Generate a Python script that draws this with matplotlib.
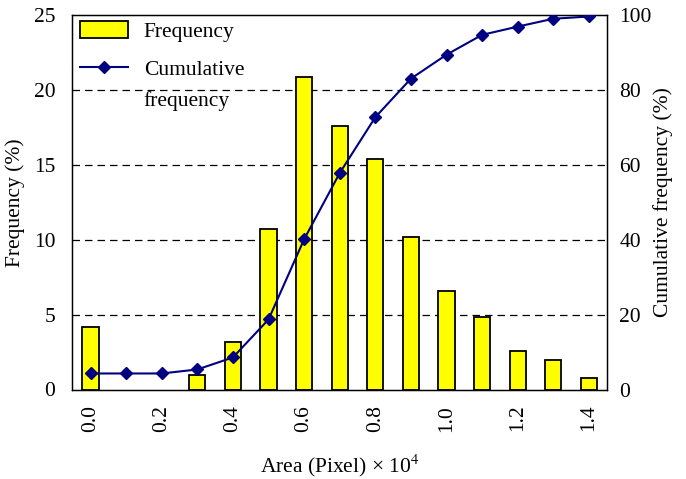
import matplotlib
matplotlib.use("Agg")
import matplotlib.pyplot as plt
from matplotlib.lines import Line2D
import numpy as np

categories = ["0.0", "0.1", "0.2", "0.3", "0.4", "0.5", "0.6", "0.7",
              "0.8", "0.9", "1.0", "1.1", "1.2", "1.3", "1.4"]
frequency = [4.16, 0, 0, 0.98, 3.2, 10.7, 20.84, 17.6, 15.36, 10.15,
             6.57, 4.83, 2.54, 2.0, 0.8]
cumulative = [4.28, 4.28, 4.28, 5.35, 8.56, 18.7, 40.1, 57.8, 72.7, 83.0,
              89.4, 94.7, 96.9, 99.0, 99.6]
left_ticks = [0, 5, 10, 15, 20, 25]
right_ticks = [0, 20, 40, 60, 80, 100]

plt.rcParams['font.family'] = ['Liberation Serif', 'DejaVu Serif']
plt.rcParams['mathtext.fontset'] = 'stix'
FS = 15.5

fig = plt.figure(figsize=(6.86, 4.79), dpi=100)
ax = fig.add_axes([72/686, 1 - 389.5/479, (606.7-72)/686, (389.5-15)/479])
x = np.arange(len(categories))

for yv in left_ticks[1:-1]:
    ax.axhline(yv, color='black', lw=0.9, ls=(0, (6, 4)), zorder=0)

bars = ax.bar(x, frequency, width=0.46, color='#FFFF00', edgecolor='black',
              linewidth=1.3, label='Frequency', zorder=2)
bars[1].set_visible(False)
bars[2].set_visible(False)
ax.set_xlim(-0.52, 14.5)
ax.set_ylim(0, 25)
ax.set_yticks(left_ticks)
ax.set_xticks(x[::2])
ax.set_xticklabels(categories[::2], rotation=90)
ax.tick_params(length=0, labelsize=FS, pad=12)
ax.tick_params(axis='x', pad=11)
ax.set_ylabel('Frequency (%)', fontsize=FS, labelpad=6)
ax.set_xlabel('Area (Pixel) × 10$^4$', fontsize=FS, labelpad=15)
for s in ax.spines.values():
    s.set_linewidth(1.0)

ax2 = ax.twinx()
ln, = ax2.plot(x, cumulative, color='#000080', lw=1.5, marker='D',
               markersize=6, label='Cumulative frequency', zorder=3)
ax2.set_ylim(0, 100)
ax2.set_yticks(right_ticks)
ax2.tick_params(length=0, labelsize=FS, pad=9)
ax2.set_ylabel('Cumulative frequency (%)', fontsize=FS, labelpad=1)

leg_kw = dict(loc='upper left', frameon=False, fontsize=FS, handlelength=2.2,
              handleheight=0.8, handletextpad=0.75)
leg1 = ax2.legend([bars], ['Frequency'], bbox_to_anchor=(-0.021, 1.035),
                  **leg_kw)
ax2.add_artist(leg1)
blank = Line2D([], [], alpha=0)
leg2 = ax2.legend([ln, blank], ['Cumulative', 'frequency'],
                  bbox_to_anchor=(-0.021, 0.933), labelspacing=0.47,
                  **leg_kw)

fig.savefig('out.png', dpi=100)
